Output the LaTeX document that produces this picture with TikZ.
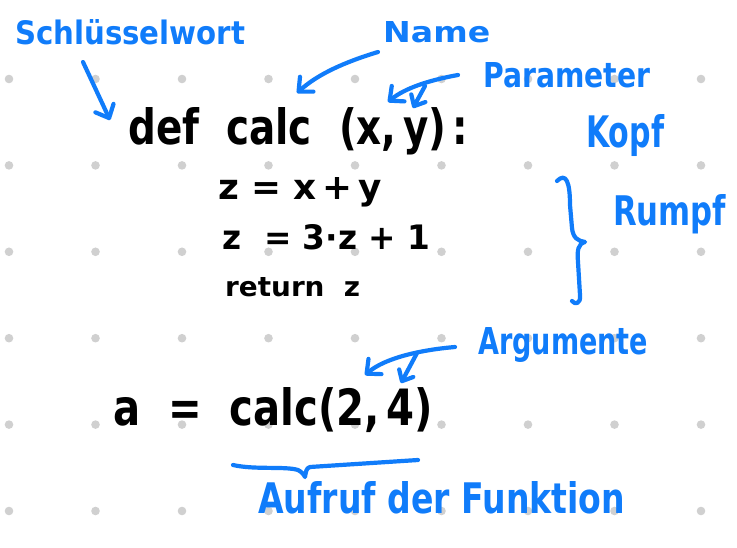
\documentclass[tikz,border=0pt]{standalone}
\usepackage{fontspec}
\setmainfont{DejaVu Sans}
\usetikzlibrary{arrows.meta}
\definecolor{pen}{RGB}{16,124,250}
\definecolor{dotc}{RGB}{208,208,208}
\newcommand{\fitbox}[3]{\resizebox{#1}{#2}{#3}}
\tikzset{
  code/.style={anchor=base west,inner sep=0pt,text=black,font=\bfseries},
  lbl/.style={anchor=base west,inner sep=0pt,text=pen,font=\bfseries},
  penline/.style={draw=pen,line width=4.2pt,line cap=round,line join=round},
  penarrow/.style={penline,-{Straight Barb[length=11pt,width=20pt,round]}},
  smallarrow/.style={penline,-{Straight Barb[length=9pt,width=16pt,round]}},
  griddot/.style={fill=dotc,draw=none}
}
\begin{document}
\begin{tikzpicture}[x=1pt,y=-1pt]
\useasboundingbox[fill=white] (0,0) rectangle (737,548);
% dot grid
\foreach \i in {0,...,8}{
  \foreach \j in {0,...,5}{
    \fill[griddot] ({9+86.5*\i},{79+86.4*\j}) circle (4.3);
  }
}
% code
\node[code] (def) at (128,145) {\fitbox{340pt}{37pt}{def\ \ calc\ \ (x,\,y)\,:}};
\node[code] (l1) at (218,200) {\fitbox{164pt}{22pt}{z = x\,+\,y}};
\node[code] (l2) at (222,250) {\fitbox{208pt}{25pt}{z \ = 3·z + 1}};
\node[code] (l3) at (225,297) {\fitbox{135pt}{19pt}{return\ \ z}};
\node[code] (call) at (113,425) {\fitbox{320pt}{38pt}{a \ = \ calc(2,\,4)}};
% labels
\node[lbl] (schl) at (15,45) {\fitbox{230pt}{25pt}{Schlüsselwort}};
\node[lbl] (name) at (383,43) {\fitbox{107pt}{21pt}{Name}};
\node[lbl] (param) at (483,88) {\fitbox{167pt}{25pt}{Parameter}};
\node[lbl] (kopf) at (586,148) {\fitbox{78pt}{33pt}{Kopf}};
\node[lbl] (rumpf) at (613,226) {\fitbox{113pt}{31pt}{Rumpf}};
\node[lbl] (arg) at (478,355) {\fitbox{170pt}{27pt}{Argumente}};
\node[lbl] (aufruf) at (258,513) {\fitbox{367pt}{32pt}{Aufruf der Funktion}};
% arrow points
\coordinate (s0) at (83,62);
\coordinate (s1) at (110,120);
\coordinate (n0) at (378,52);
\coordinate (n1) at (297,93);
\coordinate (p0) at (458,75);
\coordinate (p1) at (388,102);
\coordinate (p2) at (425,86);
\coordinate (p3) at (413,108);
\coordinate (a0) at (455,347);
\coordinate (a1) at (365,375);
\coordinate (a2) at (417,353);
\coordinate (a3) at (401,383);
% arrows
\draw[penarrow] (s0) -- (s1);
\draw[penarrow] (n0) .. controls (345,62) and (318,74) .. (n1);
\draw[penarrow] (p0) .. controls (430,80) and (405,88) .. (p1);
\draw[smallarrow] (p2) -- (p3);
\draw[penarrow] (a0) .. controls (420,350) and (385,358) .. (a1);
\draw[smallarrow] (a2) -- (a3);
% right brace (Rumpf)
\draw[penline] (557,181) .. controls (566,172) and (570,182) .. (570,205)
  -- (572,228) .. controls (573,238) and (578,241) .. (585,242)
  .. controls (578,244) and (577,250) .. (578,262)
  -- (580,295) .. controls (581,304) and (575,305) .. (572,301);
% under brace (Aufruf)
\draw[penline] (233,465) .. controls (255,470) and (285,466) .. (298,470)
  .. controls (302,472) and (304,475) .. (305,477)
  .. controls (306,472) and (306,468) .. (310,467)
  -- (418,460);
\end{tikzpicture}
\end{document}
